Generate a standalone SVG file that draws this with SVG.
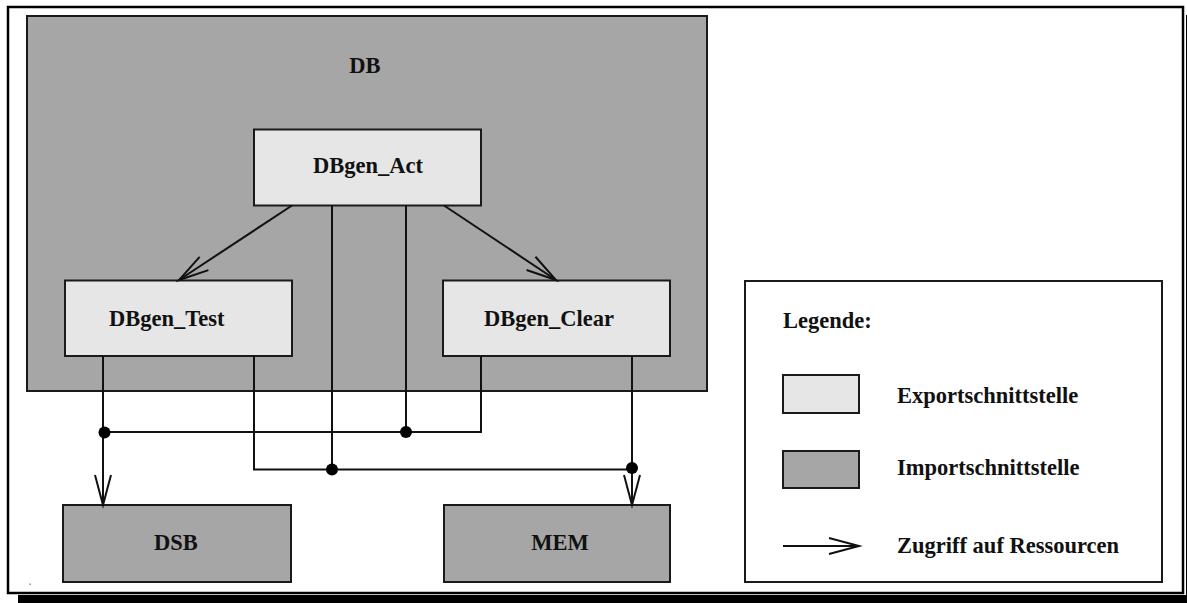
<svg xmlns="http://www.w3.org/2000/svg" width="1187" height="603" viewBox="0 0 1187 603">
  <style>
    .lbl { font-family: "Liberation Serif", "Times New Roman", serif; font-weight: bold; font-size: 22.5px; fill: #111; }
    .mid { text-anchor: middle; }
    .exp { fill: #e6e6e6; stroke: #1a1a1a; stroke-width: 2; }
    .imp { fill: #a6a6a6; stroke: #1a1a1a; stroke-width: 2; }
    .wire { fill: none; stroke: #111; stroke-width: 2; }
    .dot { fill: #000; }
  </style>
  <defs>
    <marker id="vhead" markerUnits="userSpaceOnUse" markerWidth="40" markerHeight="24" viewBox="-32 -12 40 24" refX="0" refY="0" orient="auto" overflow="visible">
      <path d="M -30 -8 L 0 0 L -30 8" fill="none" stroke="#111" stroke-width="2"/>
    </marker>
  </defs>

  <!-- page frame with drop shadow -->
  <rect x="18" y="595" width="1169" height="8" fill="#000"/>
  <rect x="1186" y="15" width="1" height="580" fill="#000"/>
  <rect x="8" y="7" width="1175" height="586" fill="#fff" stroke="#000" stroke-width="2.5"/>
  <rect x="29.5" y="583.5" width="1.5" height="1.5" fill="#888"/>

  <!-- DB container -->
  <g id="db">
    <rect class="imp" x="27" y="16" width="680" height="375" stroke="#333"/>
    <text class="lbl mid" x="365" y="73">DB</text>
  </g>

  <g id="dbgen-act">
    <rect class="exp" x="254" y="129.5" width="227" height="76"/>
    <text class="lbl mid" x="368" y="173">DBgen_Act</text>
  </g>

  <g id="dbgen-test">
    <rect class="exp" x="65" y="280.5" width="227" height="75.5"/>
    <text class="lbl" x="109" y="326">DBgen_Test</text>
  </g>

  <g id="dbgen-clear">
    <rect class="exp" x="443" y="280.5" width="227" height="75.5"/>
    <text class="lbl" x="484" y="326">DBgen_Clear</text>
  </g>

  <g id="dsb">
    <rect class="imp" x="63" y="505" width="228" height="77"/>
    <text class="lbl mid" x="176" y="550">DSB</text>
  </g>

  <g id="mem">
    <rect class="imp" x="444" y="505" width="226" height="77"/>
    <text class="lbl mid" x="560" y="550">MEM</text>
  </g>

  <!-- access connectors -->
  <g id="connectors">
    <line class="wire" x1="292" y1="205.5" x2="179" y2="280" marker-end="url(#vhead)"/>
    <line class="wire" x1="444" y1="205.5" x2="556" y2="280" marker-end="url(#vhead)"/>
    <line class="wire" x1="103" y1="356" x2="103" y2="505" marker-end="url(#vhead)"/>
    <line class="wire" x1="632" y1="356" x2="632" y2="505" marker-end="url(#vhead)"/>
    <polyline class="wire" points="104,432 481,432 481,356"/>
    <line class="wire" x1="406" y1="205.5" x2="406" y2="432"/>
    <polyline class="wire" points="254,356 254,469.5 632,469.5"/>
    <line class="wire" x1="332" y1="205.5" x2="332" y2="469.5"/>
    <circle class="dot" cx="104.5" cy="432.5" r="6"/>
    <circle class="dot" cx="406" cy="432" r="6"/>
    <circle class="dot" cx="332" cy="469.5" r="6"/>
    <circle class="dot" cx="632" cy="468" r="6"/>
  </g>

  <!-- legend -->
  <g id="legend">
    <rect x="745" y="281" width="417" height="301" fill="#fff" stroke="#1a1a1a" stroke-width="2"/>
    <text class="lbl" x="783" y="328">Legende:</text>
    <rect class="exp" x="783" y="375" width="76" height="38"/>
    <text class="lbl" x="897" y="403">Exportschnittstelle</text>
    <rect class="imp" x="783" y="451" width="76" height="37"/>
    <text class="lbl" x="897" y="475">Importschnittstelle</text>
    <line class="wire" x1="783" y1="546" x2="859" y2="546" marker-end="url(#vhead)"/>
    <text class="lbl" x="897" y="553">Zugriff auf Ressourcen</text>
  </g>
</svg>
